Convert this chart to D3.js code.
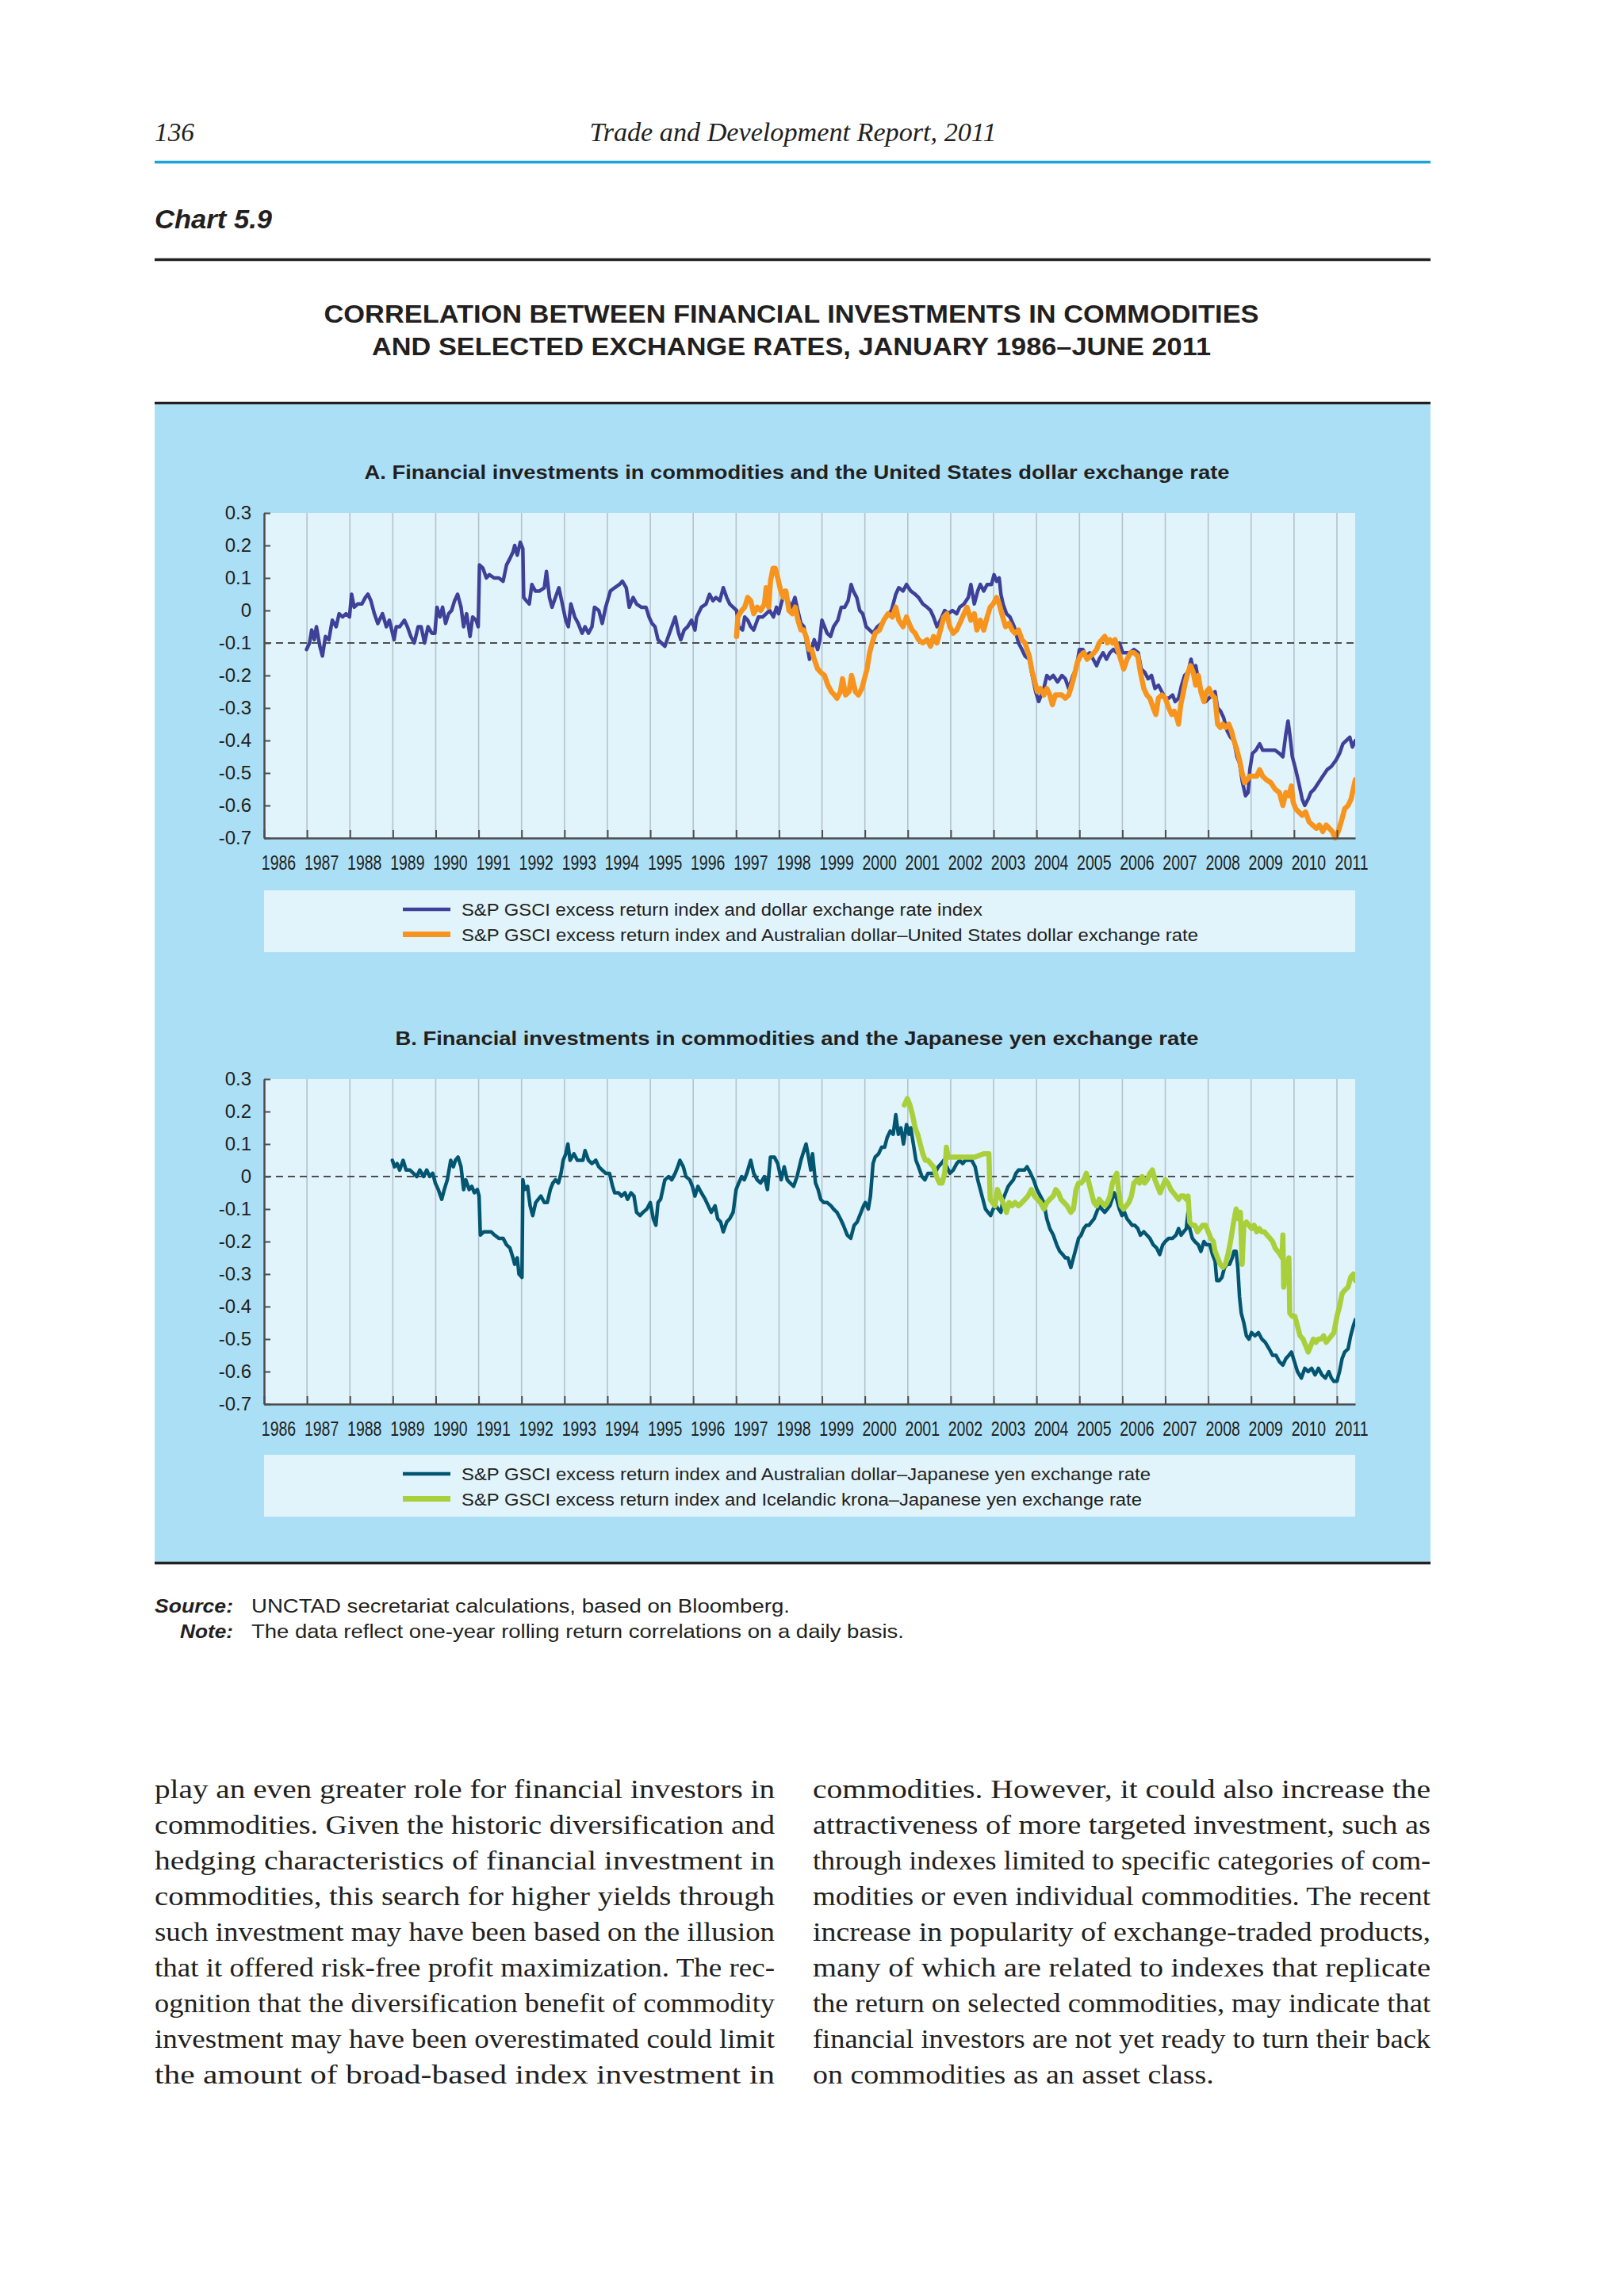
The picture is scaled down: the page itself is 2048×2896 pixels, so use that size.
<!DOCTYPE html>
<html>
<head>
<meta charset="utf-8">
<script src="https://cdn.jsdelivr.net/npm/d3@7"></script>
<style>
  html, body { margin: 0; padding: 0; background: #fff; }
  svg { display: block; }
</style>
</head>
<body>
<svg id="page" width="2048" height="2896"></svg>
<script>
// ---- data ([year, correlation]) ----
const years = d3.range(1986, 2012);
const yTicks = [0.3, 0.2, 0.1, 0, -0.1, -0.2, -0.3, -0.4, -0.5, -0.6, -0.7];

// A: S&P GSCI ER vs dollar exchange rate index
const usdIndex = [[1986.99,-0.12],[1987.06,-0.10],[1987.11,-0.06],[1987.17,-0.09],[1987.22,-0.05],[1987.30,-0.11],[1987.36,-0.14],[1987.43,-0.08],[1987.51,-0.09],[1987.59,-0.03],[1987.68,-0.05],[1987.75,-0.01],[1987.83,-0.02],[1987.91,-0.01],[1987.99,-0.02],[1988.04,0.05],[1988.10,0.01],[1988.18,0.02],[1988.28,0.02],[1988.36,0.04],[1988.42,0.05],[1988.49,0.03],[1988.57,-0.01],[1988.65,-0.04],[1988.76,-0.01],[1988.85,-0.05],[1988.92,-0.03],[1989.03,-0.09],[1989.08,-0.05],[1989.16,-0.05],[1989.27,-0.03],[1989.34,-0.05],[1989.42,-0.08],[1989.50,-0.10],[1989.59,-0.05],[1989.66,-0.05],[1989.74,-0.10],[1989.82,-0.05],[1989.91,-0.07],[1989.98,-0.07],[1990.03,0.01],[1990.10,-0.02],[1990.16,0.01],[1990.23,-0.04],[1990.30,-0.01],[1990.37,0.00],[1990.44,0.03],[1990.51,0.05],[1990.59,0.01],[1990.65,-0.05],[1990.72,-0.01],[1990.80,-0.08],[1990.86,-0.02],[1990.94,-0.03],[1990.99,-0.05],[1991.02,0.14],[1991.10,0.13],[1991.18,0.10],[1991.25,0.11],[1991.36,0.10],[1991.47,0.10],[1991.57,0.09],[1991.65,0.14],[1991.73,0.16],[1991.80,0.18],[1991.84,0.20],[1991.90,0.17],[1991.97,0.21],[1992.03,0.19],[1992.05,0.04],[1992.11,0.03],[1992.18,0.02],[1992.24,0.08],[1992.32,0.06],[1992.42,0.06],[1992.53,0.07],[1992.58,0.12],[1992.65,0.04],[1992.71,0.01],[1992.79,0.04],[1992.87,0.07],[1992.95,0.02],[1993.03,-0.03],[1993.09,-0.05],[1993.15,0.02],[1993.24,-0.02],[1993.32,-0.04],[1993.41,-0.07],[1993.48,-0.05],[1993.56,-0.07],[1993.64,-0.05],[1993.70,0.01],[1993.80,0.00],[1993.88,-0.04],[1993.96,0.01],[1994.07,0.06],[1994.17,0.07],[1994.28,0.08],[1994.35,0.09],[1994.44,0.07],[1994.51,0.01],[1994.60,0.04],[1994.68,0.02],[1994.79,0.01],[1994.90,0.01],[1994.97,-0.02],[1995.04,-0.04],[1995.11,-0.05],[1995.18,-0.09],[1995.26,-0.10],[1995.34,-0.11],[1995.42,-0.08],[1995.50,-0.05],[1995.58,-0.02],[1995.66,-0.07],[1995.71,-0.09],[1995.79,-0.06],[1995.87,-0.05],[1995.96,-0.03],[1996.04,-0.06],[1996.08,-0.02],[1996.19,0.01],[1996.30,0.02],[1996.38,0.05],[1996.46,0.03],[1996.53,0.04],[1996.62,0.03],[1996.70,0.07],[1996.78,0.04],[1996.85,0.02],[1996.93,0.01],[1997.01,0.00],[1997.06,-0.05],[1997.15,-0.06],[1997.20,-0.02],[1997.27,-0.03],[1997.34,-0.05],[1997.41,-0.06],[1997.52,-0.02],[1997.62,-0.02],[1997.70,-0.01],[1997.78,0.00],[1997.87,-0.02],[1997.94,0.01],[1997.99,-0.01],[1998.05,0.02],[1998.13,0.06],[1998.21,0.03],[1998.29,0.01],[1998.37,0.04],[1998.42,0.01],[1998.51,-0.04],[1998.58,-0.05],[1998.63,-0.09],[1998.71,-0.15],[1998.76,-0.12],[1998.82,-0.09],[1998.90,-0.12],[1998.95,-0.09],[1999.00,-0.03],[1999.12,-0.07],[1999.20,-0.08],[1999.27,-0.05],[1999.37,-0.03],[1999.45,0.01],[1999.53,0.01],[1999.61,0.03],[1999.68,0.08],[1999.73,0.06],[1999.81,0.04],[1999.88,0.00],[1999.95,-0.01],[2000.03,-0.05],[2000.11,-0.06],[2000.19,-0.07],[2000.29,-0.05],[2000.39,-0.04],[2000.49,-0.02],[2000.62,0.00],[2000.72,0.05],[2000.79,0.07],[2000.89,0.06],[2000.97,0.08],[2001.07,0.06],[2001.17,0.05],[2001.25,0.04],[2001.35,0.02],[2001.45,0.01],[2001.53,0.00],[2001.60,-0.02],[2001.68,-0.05],[2001.76,-0.03],[2001.86,0.00],[2001.94,-0.01],[2002.04,0.00],[2002.14,-0.01],[2002.21,0.01],[2002.31,0.02],[2002.41,0.04],[2002.47,0.08],[2002.55,0.02],[2002.63,0.06],[2002.69,0.08],[2002.77,0.06],[2002.85,0.08],[2002.95,0.08],[2003.01,0.11],[2003.07,0.09],[2003.13,0.10],[2003.17,0.05],[2003.22,0.02],[2003.30,-0.01],[2003.38,-0.02],[2003.48,-0.05],[2003.58,-0.10],[2003.66,-0.12],[2003.73,-0.14],[2003.83,-0.15],[2003.90,-0.20],[2003.98,-0.25],[2004.05,-0.28],[2004.11,-0.26],[2004.17,-0.24],[2004.24,-0.20],[2004.31,-0.21],[2004.39,-0.20],[2004.49,-0.22],[2004.59,-0.20],[2004.67,-0.21],[2004.75,-0.24],[2004.85,-0.20],[2004.92,-0.18],[2005.00,-0.12],[2005.08,-0.12],[2005.16,-0.14],[2005.24,-0.13],[2005.32,-0.15],[2005.40,-0.17],[2005.46,-0.15],[2005.55,-0.13],[2005.63,-0.15],[2005.71,-0.13],[2005.79,-0.12],[2005.87,-0.13],[2005.93,-0.10],[2006.01,-0.13],[2006.09,-0.13],[2006.17,-0.13],[2006.27,-0.12],[2006.37,-0.13],[2006.44,-0.18],[2006.52,-0.19],[2006.60,-0.21],[2006.68,-0.20],[2006.76,-0.24],[2006.84,-0.23],[2006.92,-0.25],[2007.00,-0.27],[2007.08,-0.27],[2007.17,-0.26],[2007.23,-0.28],[2007.31,-0.27],[2007.38,-0.23],[2007.45,-0.20],[2007.53,-0.19],[2007.60,-0.15],[2007.65,-0.18],[2007.71,-0.17],[2007.78,-0.22],[2007.85,-0.25],[2007.94,-0.28],[2008.02,-0.27],[2008.09,-0.26],[2008.16,-0.25],[2008.22,-0.30],[2008.29,-0.31],[2008.36,-0.33],[2008.44,-0.37],[2008.52,-0.39],[2008.60,-0.40],[2008.67,-0.45],[2008.73,-0.47],[2008.80,-0.53],[2008.87,-0.57],[2008.93,-0.56],[2008.97,-0.49],[2009.03,-0.44],[2009.11,-0.43],[2009.20,-0.41],[2009.27,-0.43],[2009.35,-0.43],[2009.46,-0.43],[2009.56,-0.43],[2009.66,-0.44],[2009.74,-0.45],[2009.81,-0.38],[2009.86,-0.34],[2009.91,-0.39],[2009.96,-0.45],[2010.04,-0.49],[2010.11,-0.53],[2010.19,-0.58],[2010.25,-0.60],[2010.33,-0.58],[2010.39,-0.56],[2010.47,-0.55],[2010.57,-0.53],[2010.67,-0.51],[2010.77,-0.49],[2010.87,-0.48],[2010.98,-0.46],[2011.06,-0.44],[2011.14,-0.41],[2011.22,-0.40],[2011.30,-0.39],[2011.36,-0.42],[2011.43,-0.40]];

// A: S&P GSCI ER vs Australian dollar-US dollar
const audUsd = [[1997.01,-0.08],[1997.04,-0.02],[1997.13,0.00],[1997.20,0.01],[1997.27,0.04],[1997.34,0.03],[1997.41,-0.01],[1997.49,0.01],[1997.57,0.00],[1997.66,0.02],[1997.70,0.07],[1997.76,0.01],[1997.80,0.09],[1997.86,0.13],[1997.91,0.13],[1997.97,0.10],[1998.04,0.06],[1998.10,0.04],[1998.16,0.06],[1998.23,0.00],[1998.31,-0.01],[1998.38,0.01],[1998.44,-0.03],[1998.51,-0.06],[1998.57,-0.06],[1998.63,-0.08],[1998.70,-0.12],[1998.76,-0.12],[1998.82,-0.15],[1998.90,-0.18],[1998.97,-0.19],[1999.06,-0.20],[1999.14,-0.23],[1999.22,-0.25],[1999.29,-0.26],[1999.35,-0.27],[1999.43,-0.25],[1999.48,-0.21],[1999.55,-0.26],[1999.63,-0.25],[1999.69,-0.20],[1999.78,-0.25],[1999.85,-0.26],[1999.93,-0.24],[2000.01,-0.20],[2000.05,-0.18],[2000.11,-0.13],[2000.17,-0.10],[2000.24,-0.07],[2000.34,-0.06],[2000.44,-0.03],[2000.54,-0.01],[2000.64,-0.02],[2000.72,0.01],[2000.79,-0.03],[2000.89,-0.05],[2000.97,-0.02],[2001.03,-0.04],[2001.10,-0.06],[2001.17,-0.07],[2001.25,-0.09],[2001.35,-0.10],[2001.45,-0.09],[2001.53,-0.11],[2001.60,-0.08],[2001.68,-0.10],[2001.76,-0.06],[2001.84,-0.02],[2001.91,-0.01],[2001.98,-0.05],[2002.06,-0.07],[2002.14,-0.06],[2002.21,-0.04],[2002.31,-0.01],[2002.38,0.01],[2002.47,-0.03],[2002.55,-0.01],[2002.61,-0.06],[2002.69,-0.03],[2002.77,-0.06],[2002.85,-0.02],[2002.92,0.01],[2002.99,0.02],[2003.07,0.04],[2003.13,0.02],[2003.19,-0.01],[2003.28,-0.05],[2003.36,-0.04],[2003.43,-0.06],[2003.50,-0.07],[2003.58,-0.06],[2003.66,-0.09],[2003.73,-0.10],[2003.78,-0.12],[2003.83,-0.14],[2003.90,-0.19],[2003.96,-0.22],[2004.02,-0.25],[2004.09,-0.24],[2004.17,-0.26],[2004.24,-0.24],[2004.31,-0.26],[2004.37,-0.29],[2004.44,-0.26],[2004.51,-0.26],[2004.59,-0.26],[2004.67,-0.27],[2004.75,-0.26],[2004.82,-0.23],[2004.88,-0.20],[2004.95,-0.16],[2005.02,-0.14],[2005.10,-0.13],[2005.18,-0.15],[2005.26,-0.14],[2005.34,-0.13],[2005.40,-0.12],[2005.46,-0.10],[2005.52,-0.09],[2005.59,-0.08],[2005.65,-0.10],[2005.71,-0.09],[2005.77,-0.10],[2005.83,-0.09],[2005.89,-0.12],[2005.96,-0.15],[2006.03,-0.18],[2006.11,-0.15],[2006.19,-0.13],[2006.27,-0.13],[2006.36,-0.14],[2006.42,-0.19],[2006.50,-0.24],[2006.57,-0.26],[2006.64,-0.27],[2006.72,-0.30],[2006.78,-0.32],[2006.84,-0.27],[2006.92,-0.26],[2007.00,-0.27],[2007.08,-0.30],[2007.15,-0.32],[2007.21,-0.31],[2007.27,-0.33],[2007.31,-0.35],[2007.36,-0.29],[2007.41,-0.26],[2007.47,-0.22],[2007.53,-0.19],[2007.59,-0.17],[2007.65,-0.19],[2007.71,-0.23],[2007.77,-0.20],[2007.83,-0.25],[2007.90,-0.28],[2007.96,-0.25],[2008.02,-0.24],[2008.09,-0.26],[2008.16,-0.27],[2008.22,-0.35],[2008.28,-0.36],[2008.34,-0.35],[2008.40,-0.36],[2008.48,-0.35],[2008.54,-0.37],[2008.60,-0.40],[2008.67,-0.43],[2008.73,-0.46],[2008.79,-0.50],[2008.85,-0.53],[2008.91,-0.52],[2008.97,-0.51],[2009.05,-0.51],[2009.13,-0.51],[2009.20,-0.49],[2009.27,-0.51],[2009.35,-0.52],[2009.46,-0.53],[2009.56,-0.55],[2009.66,-0.56],[2009.74,-0.60],[2009.81,-0.56],[2009.88,-0.57],[2009.94,-0.54],[2009.98,-0.59],[2010.04,-0.61],[2010.11,-0.62],[2010.19,-0.63],[2010.27,-0.62],[2010.35,-0.65],[2010.43,-0.66],[2010.52,-0.67],[2010.59,-0.66],[2010.67,-0.68],[2010.75,-0.66],[2010.82,-0.67],[2010.89,-0.68],[2010.96,-0.70],[2011.03,-0.68],[2011.10,-0.65],[2011.18,-0.61],[2011.26,-0.60],[2011.33,-0.58],[2011.38,-0.55],[2011.43,-0.52]];

// B: S&P GSCI ER vs Australian dollar-Japanese yen
const audJpy = [[1988.99,0.05],[1989.04,0.03],[1989.10,0.04],[1989.16,0.02],[1989.24,0.05],[1989.31,0.02],[1989.40,0.02],[1989.48,0.01],[1989.56,0.00],[1989.63,0.02],[1989.72,0.00],[1989.79,0.02],[1989.86,0.00],[1989.93,0.01],[1989.99,-0.02],[1990.06,-0.04],[1990.14,-0.07],[1990.20,-0.04],[1990.27,-0.01],[1990.35,0.05],[1990.41,0.03],[1990.46,0.05],[1990.52,0.06],[1990.59,0.03],[1990.65,-0.04],[1990.70,-0.01],[1990.78,-0.04],[1990.84,-0.03],[1990.90,-0.05],[1990.97,-0.04],[1991.01,-0.06],[1991.04,-0.18],[1991.12,-0.17],[1991.20,-0.17],[1991.29,-0.17],[1991.37,-0.18],[1991.47,-0.19],[1991.57,-0.19],[1991.65,-0.21],[1991.73,-0.22],[1991.80,-0.25],[1991.84,-0.27],[1991.90,-0.25],[1991.94,-0.30],[1992.01,-0.31],[1992.03,-0.01],[1992.07,-0.04],[1992.14,-0.03],[1992.20,-0.09],[1992.26,-0.12],[1992.33,-0.08],[1992.39,-0.07],[1992.45,-0.06],[1992.53,-0.08],[1992.60,-0.08],[1992.67,-0.04],[1992.73,-0.02],[1992.79,-0.01],[1992.86,-0.02],[1992.92,0.01],[1992.97,0.05],[1993.03,0.07],[1993.08,0.10],[1993.13,0.05],[1993.22,0.07],[1993.30,0.05],[1993.38,0.05],[1993.43,0.05],[1993.48,0.08],[1993.56,0.05],[1993.64,0.04],[1993.73,0.05],[1993.80,0.03],[1993.88,0.02],[1993.96,0.01],[1994.05,0.01],[1994.12,-0.03],[1994.17,-0.05],[1994.26,-0.05],[1994.33,-0.06],[1994.41,-0.05],[1994.47,-0.07],[1994.55,-0.05],[1994.62,-0.06],[1994.68,-0.11],[1994.76,-0.12],[1994.83,-0.11],[1994.92,-0.10],[1995.00,-0.08],[1995.07,-0.13],[1995.13,-0.15],[1995.18,-0.08],[1995.24,-0.07],[1995.29,-0.04],[1995.34,-0.01],[1995.43,0.00],[1995.50,-0.01],[1995.58,0.01],[1995.64,0.03],[1995.69,0.05],[1995.77,0.03],[1995.83,0.00],[1995.92,-0.01],[1995.98,-0.03],[1996.04,-0.06],[1996.11,-0.03],[1996.19,-0.05],[1996.28,-0.07],[1996.35,-0.09],[1996.42,-0.11],[1996.51,-0.09],[1996.57,-0.13],[1996.64,-0.14],[1996.70,-0.17],[1996.78,-0.14],[1996.85,-0.13],[1996.93,-0.11],[1997.00,-0.04],[1997.06,-0.02],[1997.13,0.00],[1997.19,-0.01],[1997.25,0.01],[1997.34,0.05],[1997.41,0.01],[1997.49,-0.01],[1997.57,-0.02],[1997.66,0.00],[1997.73,-0.04],[1997.80,0.06],[1997.89,0.06],[1997.97,0.04],[1998.05,-0.01],[1998.12,0.03],[1998.19,-0.01],[1998.26,-0.02],[1998.34,-0.03],[1998.42,0.00],[1998.51,0.05],[1998.58,0.08],[1998.63,0.10],[1998.70,0.05],[1998.74,0.02],[1998.78,0.07],[1998.85,-0.02],[1998.91,-0.04],[1998.97,-0.07],[1999.04,-0.08],[1999.12,-0.08],[1999.21,-0.09],[1999.27,-0.10],[1999.35,-0.11],[1999.43,-0.13],[1999.50,-0.15],[1999.59,-0.18],[1999.67,-0.19],[1999.75,-0.15],[1999.82,-0.14],[1999.91,-0.11],[1999.97,-0.09],[2000.01,-0.08],[2000.08,-0.10],[2000.13,-0.06],[2000.19,0.04],[2000.24,0.06],[2000.32,0.07],[2000.39,0.09],[2000.46,0.09],[2000.52,0.12],[2000.59,0.14],[2000.66,0.13],[2000.72,0.19],[2000.78,0.13],[2000.84,0.15],[2000.90,0.10],[2000.97,0.16],[2001.03,0.13],[2001.07,0.15],[2001.13,0.10],[2001.19,0.05],[2001.25,0.03],[2001.33,0.00],[2001.40,-0.01],[2001.47,0.01],[2001.55,0.01],[2001.63,0.01],[2001.71,0.03],[2001.78,0.04],[2001.84,0.05],[2001.91,0.03],[2001.98,0.01],[2002.06,0.02],[2002.14,0.04],[2002.21,0.05],[2002.28,0.04],[2002.34,0.05],[2002.41,0.05],[2002.49,0.05],[2002.57,0.03],[2002.63,-0.01],[2002.69,-0.04],[2002.75,-0.07],[2002.81,-0.10],[2002.87,-0.11],[2002.93,-0.12],[2002.99,-0.10],[2003.05,-0.09],[2003.11,-0.10],[2003.17,-0.11],[2003.22,-0.07],[2003.28,-0.05],[2003.34,-0.03],[2003.40,-0.02],[2003.46,-0.01],[2003.52,0.01],[2003.58,0.02],[2003.65,0.02],[2003.72,0.02],[2003.78,0.03],[2003.86,0.01],[2003.93,-0.01],[2004.01,-0.04],[2004.09,-0.06],[2004.17,-0.08],[2004.24,-0.13],[2004.31,-0.16],[2004.39,-0.18],[2004.47,-0.21],[2004.54,-0.23],[2004.61,-0.24],[2004.67,-0.25],[2004.73,-0.25],[2004.80,-0.28],[2004.86,-0.25],[2004.92,-0.22],[2004.98,-0.19],[2005.04,-0.18],[2005.10,-0.16],[2005.16,-0.15],[2005.22,-0.15],[2005.28,-0.14],[2005.34,-0.13],[2005.40,-0.11],[2005.46,-0.09],[2005.52,-0.10],[2005.59,-0.11],[2005.65,-0.10],[2005.71,-0.09],[2005.76,-0.07],[2005.81,-0.05],[2005.87,-0.07],[2005.93,-0.10],[2005.99,-0.12],[2006.05,-0.11],[2006.11,-0.13],[2006.17,-0.14],[2006.23,-0.15],[2006.29,-0.15],[2006.36,-0.16],[2006.42,-0.18],[2006.50,-0.17],[2006.57,-0.18],[2006.64,-0.19],[2006.72,-0.21],[2006.80,-0.22],[2006.87,-0.24],[2006.94,-0.21],[2007.00,-0.20],[2007.08,-0.19],[2007.17,-0.19],[2007.25,-0.18],[2007.31,-0.16],[2007.37,-0.18],[2007.43,-0.17],[2007.49,-0.16],[2007.53,-0.11],[2007.57,-0.16],[2007.63,-0.19],[2007.69,-0.20],[2007.77,-0.21],[2007.83,-0.23],[2007.90,-0.20],[2007.96,-0.21],[2008.04,-0.21],[2008.10,-0.24],[2008.16,-0.26],[2008.20,-0.32],[2008.26,-0.32],[2008.32,-0.31],[2008.38,-0.28],[2008.44,-0.27],[2008.50,-0.27],[2008.56,-0.25],[2008.60,-0.23],[2008.65,-0.23],[2008.69,-0.28],[2008.73,-0.37],[2008.77,-0.42],[2008.83,-0.45],[2008.89,-0.49],[2008.95,-0.50],[2009.01,-0.48],[2009.09,-0.49],[2009.17,-0.48],[2009.25,-0.50],[2009.33,-0.51],[2009.42,-0.53],[2009.50,-0.55],[2009.58,-0.55],[2009.66,-0.57],[2009.74,-0.58],[2009.81,-0.56],[2009.88,-0.55],[2009.94,-0.54],[2010.01,-0.57],[2010.08,-0.60],[2010.17,-0.62],[2010.25,-0.59],[2010.33,-0.60],[2010.41,-0.59],[2010.49,-0.61],[2010.57,-0.59],[2010.65,-0.61],[2010.73,-0.62],[2010.81,-0.60],[2010.87,-0.62],[2010.93,-0.63],[2011.00,-0.63],[2011.06,-0.60],[2011.12,-0.56],[2011.18,-0.54],[2011.26,-0.53],[2011.32,-0.49],[2011.38,-0.46],[2011.43,-0.44]];

// B: S&P GSCI ER vs Icelandic krona-Japanese yen
const iskJpy = [[2000.92,0.22],[2000.99,0.24],[2001.05,0.22],[2001.11,0.19],[2001.17,0.15],[2001.23,0.13],[2001.29,0.10],[2001.35,0.07],[2001.41,0.05],[2001.47,0.05],[2001.53,0.04],[2001.60,0.03],[2001.67,0.00],[2001.74,-0.02],[2001.80,-0.02],[2001.86,0.01],[2001.90,0.09],[2001.94,0.06],[2002.01,0.06],[2002.16,0.06],[2002.36,0.06],[2002.57,0.06],[2002.77,0.07],[2002.89,0.07],[2002.92,-0.07],[2002.97,-0.08],[2003.03,-0.09],[2003.09,-0.04],[2003.15,-0.06],[2003.22,-0.08],[2003.30,-0.11],[2003.36,-0.08],[2003.43,-0.09],[2003.50,-0.08],[2003.58,-0.09],[2003.66,-0.08],[2003.73,-0.07],[2003.80,-0.06],[2003.88,-0.04],[2003.95,-0.06],[2004.02,-0.07],[2004.09,-0.08],[2004.17,-0.10],[2004.24,-0.08],[2004.31,-0.07],[2004.39,-0.06],[2004.45,-0.04],[2004.51,-0.05],[2004.57,-0.07],[2004.64,-0.08],[2004.71,-0.09],[2004.80,-0.11],[2004.86,-0.10],[2004.92,-0.04],[2004.98,-0.02],[2005.04,-0.02],[2005.10,-0.01],[2005.16,0.01],[2005.22,-0.02],[2005.28,-0.05],[2005.34,-0.08],[2005.40,-0.09],[2005.46,-0.07],[2005.52,-0.08],[2005.59,-0.09],[2005.65,-0.08],[2005.71,-0.06],[2005.77,-0.02],[2005.83,0.00],[2005.87,0.01],[2005.91,-0.04],[2005.97,-0.09],[2006.03,-0.10],[2006.09,-0.09],[2006.15,-0.08],[2006.21,-0.06],[2006.27,-0.02],[2006.34,-0.01],[2006.40,-0.02],[2006.46,0.00],[2006.52,-0.02],[2006.58,-0.01],[2006.64,0.01],[2006.70,0.02],[2006.76,-0.01],[2006.82,-0.03],[2006.88,-0.05],[2006.94,-0.03],[2007.00,-0.01],[2007.06,-0.02],[2007.13,-0.04],[2007.19,-0.05],[2007.25,-0.06],[2007.31,-0.07],[2007.37,-0.06],[2007.43,-0.06],[2007.49,-0.07],[2007.53,-0.06],[2007.57,-0.14],[2007.63,-0.15],[2007.69,-0.15],[2007.75,-0.17],[2007.81,-0.16],[2007.87,-0.15],[2007.94,-0.15],[2008.00,-0.17],[2008.06,-0.19],[2008.12,-0.20],[2008.16,-0.23],[2008.22,-0.25],[2008.28,-0.27],[2008.34,-0.28],[2008.40,-0.27],[2008.46,-0.24],[2008.52,-0.20],[2008.58,-0.15],[2008.65,-0.10],[2008.71,-0.13],[2008.75,-0.11],[2008.79,-0.27],[2008.83,-0.15],[2008.89,-0.14],[2008.95,-0.15],[2009.01,-0.16],[2009.07,-0.15],[2009.13,-0.17],[2009.19,-0.16],[2009.25,-0.17],[2009.31,-0.17],[2009.37,-0.18],[2009.44,-0.19],[2009.50,-0.20],[2009.56,-0.22],[2009.62,-0.23],[2009.68,-0.24],[2009.72,-0.25],[2009.74,-0.18],[2009.76,-0.34],[2009.80,-0.30],[2009.84,-0.28],[2009.88,-0.25],[2009.90,-0.42],[2009.96,-0.43],[2010.02,-0.43],[2010.08,-0.46],[2010.14,-0.49],[2010.21,-0.50],[2010.27,-0.52],[2010.33,-0.54],[2010.39,-0.52],[2010.45,-0.50],[2010.51,-0.51],[2010.57,-0.50],[2010.63,-0.50],[2010.69,-0.49],[2010.75,-0.51],[2010.81,-0.50],[2010.87,-0.49],[2010.93,-0.48],[2011.00,-0.43],[2011.06,-0.40],[2011.12,-0.36],[2011.18,-0.35],[2011.26,-0.34],[2011.32,-0.31],[2011.38,-0.30],[2011.43,-0.32]];

const legendA = ["S&P GSCI excess return index and dollar exchange rate index",
                 "S&P GSCI excess return index and Australian dollar\u2013United States dollar exchange rate"];
const legendB = ["S&P GSCI excess return index and Australian dollar\u2013Japanese yen exchange rate",
                 "S&P GSCI excess return index and Icelandic krona\u2013Japanese yen exchange rate"];

const bodyLeft = [
  "play an even greater role for financial investors in",
  "commodities. Given the historic diversification and",
  "hedging characteristics of financial investment in",
  "commodities, this search for higher yields through",
  "such investment may have been based on the illusion",
  "that it offered risk-free profit maximization. The rec-",
  "ognition that the diversification benefit of commodity",
  "investment may have been overestimated could limit",
  "the amount of broad-based index investment in"];
const bodyRight = [
  "commodities. However, it could also increase the",
  "attractiveness of more targeted investment, such as",
  "through indexes limited to specific categories of com-",
  "modities or even individual commodities. The recent",
  "increase in popularity of exchange-traded products,",
  "many of which are related to indexes that replicate",
  "the return on selected commodities, may indicate that",
  "financial investors are not yet ready to turn their back",
  "on commodities as an asset class."];

// ---- drawing ----
const svg = d3.select("#page");
const SANS = "'Liberation Sans', Arial, Helvetica, sans-serif";
const SERIF = "'Liberation Serif', 'Times New Roman', serif";
const INK = "#231f20";

function txt(g, x, y, s, o) {
  const t = g.append("text").attr("x", x).attr("y", y).text(s)
    .attr("font-family", o.family || SANS)
    .attr("font-size", o.size)
    .attr("fill", o.fill || INK)
    .attr("text-anchor", o.anchor || "start");
  if (o.weight) t.attr("font-weight", o.weight);
  if (o.style) t.attr("font-style", o.style);
  if (o.width) {
    t.attr("textLength", o.width).attr("lengthAdjust", "spacingAndGlyphs");
  } else if (o.squeeze) {
    const w = t.node().getComputedTextLength();
    t.attr("textLength", w * o.squeeze).attr("lengthAdjust", "spacingAndGlyphs");
  }
  return t;
}

svg.append("rect").attr("width", 2048).attr("height", 2896).attr("fill", "#fff");

// running head
txt(svg, 195, 178, "136", {family: SERIF, style: "italic", size: 33, width: 50});
txt(svg, 1000, 178, "Trade and Development Report, 2011", {family: SERIF, style: "italic", size: 33, anchor: "middle", width: 513});
svg.append("line").attr("x1", 195).attr("x2", 1804).attr("y1", 204.5).attr("y2", 204.5)
  .attr("stroke", "#1ba3dc").attr("stroke-width", 3.5);

txt(svg, 195, 288, "Chart 5.9", {size: 33, weight: "bold", style: "italic", width: 148});
svg.append("line").attr("x1", 195).attr("x2", 1804).attr("y1", 327.5).attr("y2", 327.5)
  .attr("stroke", INK).attr("stroke-width", 3.5);

txt(svg, 998, 407, "CORRELATION BETWEEN FINANCIAL INVESTMENTS IN COMMODITIES", {size: 31, weight: "bold", anchor: "middle", width: 1179});
txt(svg, 998, 448, "AND SELECTED EXCHANGE RATES, JANUARY 1986\u2013JUNE 2011", {size: 31, weight: "bold", anchor: "middle", width: 1058});
svg.append("line").attr("x1", 195).attr("x2", 1804).attr("y1", 508.5).attr("y2", 508.5)
  .attr("stroke", INK).attr("stroke-width", 3.5);

// blue panel
svg.append("rect").attr("x", 195).attr("y", 510).attr("width", 1609).attr("height", 1460).attr("fill", "#abdff6");
svg.append("line").attr("x1", 195).attr("x2", 1804).attr("y1", 1971.5).attr("y2", 1971.5)
  .attr("stroke", INK).attr("stroke-width", 3.5);

const x = d3.scaleLinear().domain([1986, 2011.425]).range([333, 1709]);

function panel(top, title, titleW, series, refValue, legendTop, legend, legendW) {
  const y = d3.scaleLinear().domain([-0.7, 0.3]).range([top + 410, top]);
  const g = svg.append("g");

  txt(g, 1005, top - 43, title, {size: 24, weight: "bold", anchor: "middle", width: titleW});

  g.append("rect").attr("x", x.range()[0]).attr("y", top)
    .attr("width", x.range()[1] - x.range()[0]).attr("height", 410).attr("fill", "#e1f3fb");

  // vertical year gridlines
  g.selectAll(".grid").data(years.slice(1)).join("line")
    .attr("x1", d => x(d)).attr("x2", d => x(d))
    .attr("y1", top).attr("y2", top + 410)
    .attr("stroke", "#b3c3cb").attr("stroke-width", 1.6);

  // reference dashed line
  g.append("line").attr("x1", x.range()[0]).attr("x2", x.range()[1])
    .attr("y1", y(refValue)).attr("y2", y(refValue))
    .attr("stroke", "#4d4d4d").attr("stroke-width", 2).attr("stroke-dasharray", "9,6");

  const clipId = "clip" + top;
  g.append("clipPath").attr("id", clipId).append("rect")
    .attr("x", x.range()[0]).attr("y", top - 6).attr("width", x.range()[1] - x.range()[0]).attr("height", 420);

  const line = d3.line().x(d => x(d[0])).y(d => y(d[1]));
  series.forEach(s => {
    g.append("path").datum(s.data).attr("d", line)
      .attr("fill", "none").attr("stroke", s.color).attr("stroke-width", s.width)
      .attr("stroke-linejoin", "round").attr("stroke-linecap", "round")
      .attr("clip-path", `url(#${clipId})`);
  });

  // axes (hyphen for negatives, as printed)
  const yAxis = d3.axisLeft(y).tickValues(yTicks).tickSizeInner(-8).tickSizeOuter(0).tickPadding(16)
    .tickFormat(d => d === 0 ? "0" : d3.format(".1f")(d).replace("\u2212", "-"));
  const ya = g.append("g").attr("transform", `translate(${x.range()[0]},0)`).call(yAxis);
  ya.select(".domain").attr("stroke", "#4d4d4d").attr("stroke-width", 2.5);
  ya.selectAll(".tick line").attr("stroke", "#4d4d4d").attr("stroke-width", 2);
  ya.selectAll(".tick text").attr("font-family", SANS).attr("font-size", 24).attr("fill", INK);

  const xAxis = d3.axisBottom(x).tickValues(years).tickSizeInner(-10).tickSizeOuter(0).tickPadding(22)
    .tickFormat(d3.format("d"));
  const xa = g.append("g").attr("transform", `translate(0,${top + 410})`).call(xAxis);
  xa.select(".domain").attr("stroke", "#4d4d4d").attr("stroke-width", 2.5);
  xa.selectAll(".tick line").attr("stroke", "#4d4d4d").attr("stroke-width", 2);
  xa.selectAll(".tick text").attr("font-family", SANS).attr("font-size", 25).attr("fill", INK)
    .attr("x", 18)
    .each(function () {
      const w = this.getComputedTextLength();
      d3.select(this).attr("textLength", w * 0.78).attr("lengthAdjust", "spacingAndGlyphs");
    });

  // legend
  g.append("rect").attr("x", x.range()[0]).attr("y", legendTop)
    .attr("width", x.range()[1] - x.range()[0]).attr("height", 78).attr("fill", "#e1f3fb");
  series.forEach((s, i) => {
    const ly = legendTop + 24 + i * 31.5;
    g.append("line").attr("x1", 508).attr("x2", 568).attr("y1", ly).attr("y2", ly)
      .attr("stroke", s.color).attr("stroke-width", s.legendWidth);
    txt(g, 582, ly + 8, legend[i], {size: 22, width: legendW[i]});
  });
}

panel(647, "A. Financial investments in commodities and the United States dollar exchange rate", 1091,
  [{data: usdIndex, color: "#3f4199", width: 4.5, legendWidth: 4.5},
   {data: audUsd, color: "#f7941d", width: 6.5, legendWidth: 7}],
  -0.1, 1123, legendA, [657, 929]);

panel(1361, "B. Financial investments in commodities and the Japanese yen exchange rate", 1013,
  [{data: audJpy, color: "#035671", width: 4.5, legendWidth: 4.5},
   {data: iskJpy, color: "#a9cf3a", width: 6.5, legendWidth: 7}],
  0, 1835, legendB, [869, 858]);

// source and note
txt(svg, 294, 2034, "Source:", {size: 23, weight: "bold", style: "italic", anchor: "end", width: 99});
txt(svg, 317, 2034, "UNCTAD secretariat calculations, based on Bloomberg.", {size: 23, width: 679});
txt(svg, 294, 2066, "Note:", {size: 23, weight: "bold", style: "italic", anchor: "end", width: 67});
txt(svg, 317, 2066, "The data reflect one-year rolling return correlations on a daily basis.", {size: 23, width: 823});

// body text, justified columns; the last line keeps the average squeeze
const bodyG = svg.append("g");
const BODY = 34;
const ratios = [];
bodyLeft.forEach((s, i) => {
  const t = txt(bodyG, 195, 2268 + i * 45, s, {family: SERIF, size: BODY});
  ratios.push(782 / t.node().getComputedTextLength());
  t.attr("textLength", 782).attr("lengthAdjust", "spacingAndGlyphs");
});
bodyRight.forEach((s, i) => {
  const t = txt(bodyG, 1025, 2268 + i * 45, s, {family: SERIF, size: BODY});
  const w = t.node().getComputedTextLength();
  if (i < bodyRight.length - 1) {
    ratios.push(779 / w);
    t.attr("textLength", 779).attr("lengthAdjust", "spacingAndGlyphs");
  } else {
    t.attr("textLength", w * d3.mean(ratios)).attr("lengthAdjust", "spacingAndGlyphs");
  }
});
</script>
</body>
</html>
